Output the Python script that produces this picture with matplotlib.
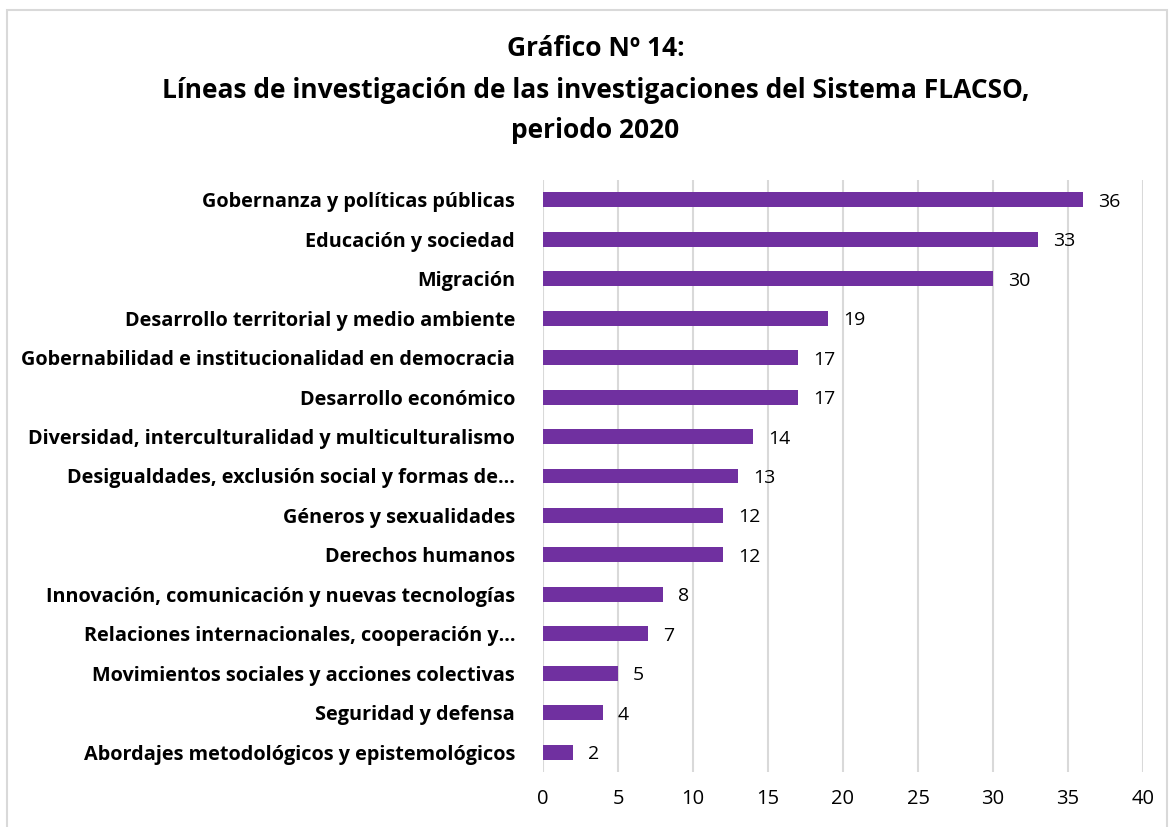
import matplotlib.pyplot as plt
from matplotlib.patches import Rectangle

categorias = [
    "Gobernanza y políticas públicas",
    "Educación y sociedad",
    "Migración",
    "Desarrollo territorial y medio ambiente",
    "Gobernabilidad e institucionalidad en democracia",
    "Desarrollo económico",
    "Diversidad, interculturalidad y multiculturalismo",
    "Desigualdades, exclusión social y formas de…",
    "Géneros y sexualidades",
    "Derechos humanos",
    "Innovación, comunicación y nuevas tecnologías",
    "Relaciones internacionales, cooperación y…",
    "Movimientos sociales y acciones colectivas",
    "Seguridad y defensa",
    "Abordajes metodológicos y epistemológicos",
]
valores = [36, 33, 30, 19, 17, 17, 14, 13, 12, 12, 8, 7, 5, 4, 2]
ticks_x = [0, 5, 10, 15, 20, 25, 30, 35, 40]

plt.rcParams['font.family'] = ['Open Sans', 'DejaVu Sans']

fig = plt.figure(figsize=(11.72, 8.27), dpi=100)
ax = fig.add_axes([543/1172, 1 - 772/827, 600/1172, 592/827])

y = list(range(len(categorias)))
ax.barh(y, valores, height=0.38, color='#7030A0', zorder=3)
for yi, v in zip(y, valores):
    ax.text(v + 1.0, yi + 0.05, str(v), va='center', ha='left', fontsize=14, zorder=4)

ax.set_xlim(0, 40)
ax.set_ylim(len(categorias) - 0.5, -0.5)
ax.set_xticks(ticks_x)
ax.set_yticks(y)
ax.set_yticklabels(categorias, fontsize=14.3, fontweight='bold')
ax.tick_params(axis='y', length=0, pad=20)
ax.tick_params(axis='x', length=0, labelsize=14.5, pad=12)
ax.grid(axis='x', color='#d9d9d9', linewidth=1.5, zorder=0)
for s in ax.spines.values():
    s.set_visible(False)

for yy, txt in [(48, "Gráfico Nº 14:"),
                (90, "Líneas de investigación de las investigaciones del Sistema FLACSO,"),
                (130, "periodo 2020")]:
    fig.text(0.508, 1 - yy/827, txt, ha='center', va='center',
             fontsize=19, fontweight='bold')

fig.patches.append(Rectangle((7/1172, -0.05), 1160/1172, 1.05 - 10/827,
                             transform=fig.transFigure, fill=False,
                             edgecolor='#d9d9d9', linewidth=1.5))

fig.savefig('out.png', dpi=100)
